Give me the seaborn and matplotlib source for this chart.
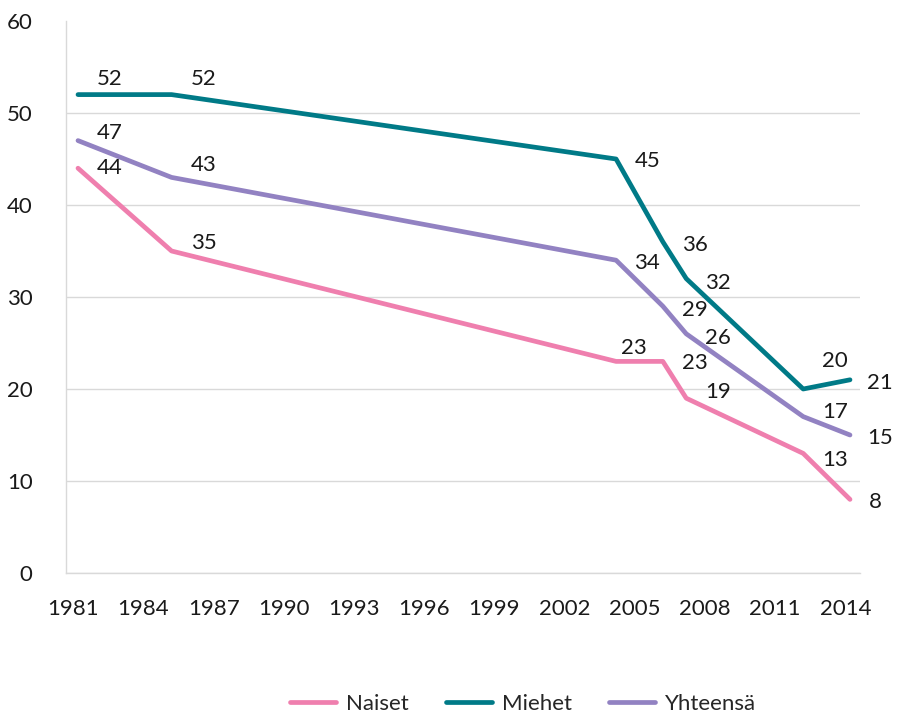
import numpy as np
import pandas as pd
import matplotlib
matplotlib.use("Agg")
import matplotlib.pyplot as plt
import seaborn as sns

years = [1981, 1985, 2004, 2006, 2007, 2012, 2014]
naiset = [44, 35, 23, 23, 19, 13, 8]
miehet = [52, 52, 45, 36, 32, 20, 21]
yhteensa = [47, 43, 34, 29, 26, 17, 15]
series_names = ["Naiset", "Miehet", "Yhteensä"]
x_ticks = list(range(1981, 2015, 3))
y_ticks = [0, 10, 20, 30, 40, 50, 60]

colors = {"Naiset": "#EF7FAE", "Miehet": "#007A87", "Yhteensä": "#9282C2"}

# label offsets in pixels (dx, dy) from each point
label_offsets = {
    "Naiset": [(32, 0), (32, 8), (18, 13), (32, -2), (32, 6), (32, -7), (25, -3)],
    "Miehet": [(32, 16), (32, 16), (32, -2), (32, -3), (32, -4), (32, 28), (30, -3)],
    "Yhteensä": [(32, 8), (32, 12), (31, -3), (32, -4), (32, -4), (32, 5), (30, -3)],
}

df = pd.DataFrame({
    "year": years * 3,
    "value": naiset + miehet + yhteensa,
    "series": [s for s in series_names for _ in years],
})

sns.set_theme(style="white")
plt.rcParams["font.family"] = ["Lato", "DejaVu Sans"]

fig = plt.figure(figsize=(8.97, 7.15), dpi=100)
ax = fig.add_axes([66 / 897, 1 - 573 / 715, (860 - 66) / 897, (573 - 21) / 715])

sns.lineplot(data=df, x="year", y="value", hue="series", hue_order=series_names,
             palette=colors, linewidth=3.4, ax=ax, legend=True)

for name, vals in zip(series_names, [naiset, miehet, yhteensa]):
    for yr, v, (dx, dy) in zip(years, vals, label_offsets[name]):
        ax.annotate(str(v), (yr, v), xytext=(dx, dy), textcoords="offset pixels",
                    ha="center", va="center", fontsize=16, color="#1a1a1a")

ax.set_xlim(1981 - 12 / 23.39, 2014 + 10 / 23.39)
ax.set_ylim(0, 60)
# excel date axis puts the year ticks slightly left of the data points
ax.set_xticks([t - 0.2 for t in x_ticks], labels=[str(t) for t in x_ticks])
ax.set_yticks(y_ticks)
ax.set_xlabel("")
ax.set_ylabel("")
ax.tick_params(axis="y", length=0, pad=24, labelsize=16, labelcolor="#1a1a1a")
ax.tick_params(axis="x", length=0, pad=19, labelsize=16, labelcolor="#1a1a1a")
ax.grid(axis="y", color="#D9D9D9", linewidth=1)
ax.yaxis.get_gridlines()[-1].set_visible(False)
for side in ["top", "right"]:
    ax.spines[side].set_visible(False)
for side in ["left", "bottom"]:
    ax.spines[side].set_color("#D9D9D9")
    ax.spines[side].set_linewidth(1)

handles, labels = ax.get_legend_handles_labels()
ax.legend_.remove()
fig.legend(handles, labels, loc="center", bbox_to_anchor=(523 / 897, 1 - 704 / 715),
           ncol=3, frameon=False, fontsize=16, handlelength=2.07, handletextpad=0.45,
           columnspacing=1.67)

fig.savefig("out.png", dpi=100)
